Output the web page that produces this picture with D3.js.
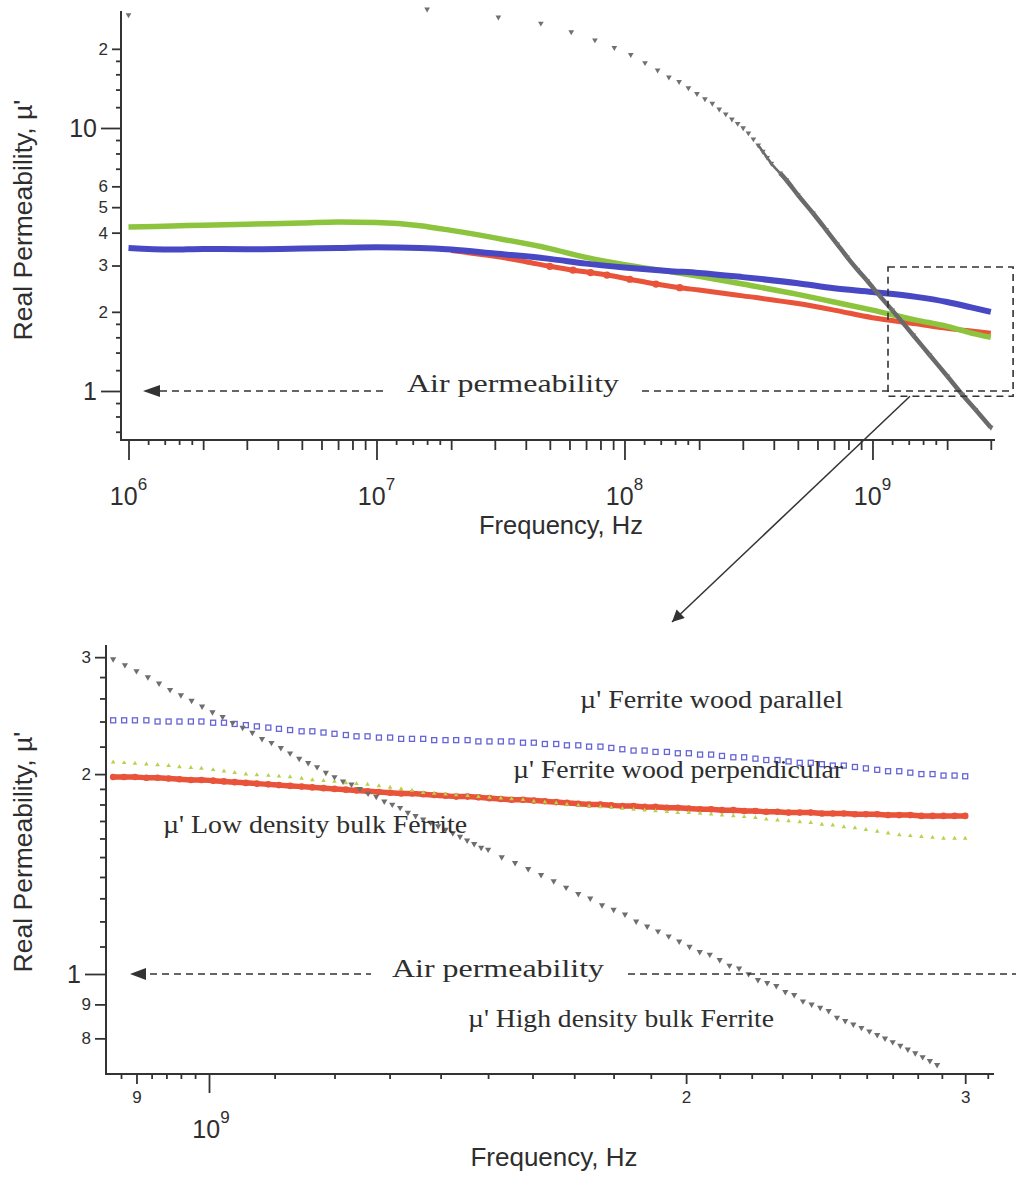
<!DOCTYPE html>
<html>
<head>
<meta charset="utf-8">
<script src="https://cdn.jsdelivr.net/npm/d3@7"></script>
<style>
  body { margin: 0; background: #fff; }
  text { fill: #2e2e2e; }
</style>
</head>
<body>
<script>
// ---------- data: upper chart (full sweep, Hz) ----------
var topFreq = [1e6, 1.5e6, 2e6, 3e6, 5e6, 7e6, 1e7, 1.5e7, 2e7, 3e7, 5e7, 7e7, 1e8, 1.5e8, 2e8, 3e8, 5e8, 7e8, 1e9, 1.5e9, 2e9, 2.5e9, 3e9];
var topBlue = [3.50, 3.45, 3.47, 3.46, 3.48, 3.50, 3.52, 3.50, 3.45, 3.33, 3.18, 3.05, 2.95, 2.86, 2.81, 2.71, 2.57, 2.46, 2.38, 2.28, 2.18, 2.08, 2.00];
var topGreen = [4.20, 4.24, 4.27, 4.31, 4.35, 4.39, 4.37, 4.25, 4.08, 3.82, 3.48, 3.22, 3.02, 2.85, 2.73, 2.55, 2.33, 2.18, 2.03, 1.86, 1.76, 1.66, 1.60];

var topRedFreq = [2e7, 3e7, 4e7, 5e7, 6.2e7, 7.3e7, 8.5e7, 1.05e8, 1.34e8, 1.67e8, 2e8, 3e8, 5e8, 7e8, 1e9, 1.5e9, 2e9, 2.5e9, 3e9];
var topRed = [3.42, 3.25, 3.10, 2.98, 2.88, 2.82, 2.76, 2.66, 2.55, 2.47, 2.42, 2.30, 2.15, 2.03, 1.90, 1.80, 1.73, 1.69, 1.66];

var topGrayFreq = [1e6, 1.6e7, 3.1e7, 4.6e7, 6.1e7, 7.6e7, 9.1e7, 1.06e8, 1.21e8, 1.36e8, 1.51e8, 1.66e8, 1.81e8, 1.96e8, 2.11e8, 2.26e8,
                   2.41e8, 2.56e8, 2.71e8, 2.86e8, 3.01e8, 3.16e8, 3.31e8, 3.46e8, 3.61e8, 3.76e8, 3.91e8,
                   4.24e8, 4.5e8, 5e8, 5.75e8, 6.5e8, 7.2e8, 7.9e8, 8.7e8, 9.5e8, 1.07e9, 1.2e9, 1.46e9, 1.7e9, 2e9, 2.3e9, 2.6e9, 3e9];
var topGray = [26.9, 28.3, 26.4, 25.0, 23.2, 21.6, 20.2, 19.0, 17.7, 16.6, 15.6, 15.0, 14.2, 13.5, 12.9, 12.4,
               11.8, 11.3, 10.8, 10.4, 10.0, 9.57, 9.08, 8.61, 8.14, 7.72, 7.33,
               6.74, 6.33, 5.57, 4.75, 4.1, 3.62, 3.23, 2.89, 2.63, 2.30, 2.03, 1.63, 1.37, 1.14, 0.97, 0.85, 0.727];

// ---------- data: lower (zoomed) chart, GHz ----------
var botFreq = [0.870, 0.884, 0.898, 0.913, 0.928, 0.943, 0.958, 0.974, 0.989, 1.006,
               1.022, 1.038, 1.055, 1.072, 1.090, 1.107, 1.125, 1.144, 1.162, 1.181,
               1.200, 1.220, 1.239, 1.259, 1.280, 1.301, 1.322, 1.343, 1.365, 1.387,
               1.410, 1.432, 1.456, 1.479, 1.503, 1.528, 1.552, 1.578, 1.603, 1.629,
               1.656, 1.682, 1.710, 1.737, 1.766, 1.794, 1.823, 1.853, 1.883, 1.913,
               1.945, 1.976, 2.008, 2.041, 2.074, 2.107, 2.142, 2.176, 2.212, 2.247,
               2.284, 2.321, 2.359, 2.397, 2.436, 2.475, 2.515, 2.556, 2.597, 2.640,
               2.682, 2.726, 2.770, 2.815, 2.861, 2.907, 2.954, 3.000];
var botBlue = [2.41, 2.41, 2.41, 2.41, 2.40, 2.40, 2.40, 2.40, 2.40, 2.39,
               2.39, 2.38, 2.37, 2.36, 2.35, 2.34, 2.33, 2.32, 2.32, 2.31,
               2.30, 2.29, 2.28, 2.28, 2.27, 2.27, 2.26, 2.26, 2.26, 2.25,
               2.25, 2.25, 2.25, 2.24, 2.24, 2.24, 2.24, 2.23, 2.23, 2.22,
               2.22, 2.21, 2.21, 2.20, 2.20, 2.19, 2.18, 2.17, 2.17, 2.16,
               2.16, 2.15, 2.15, 2.14, 2.14, 2.13, 2.12, 2.12, 2.11, 2.10,
               2.10, 2.09, 2.08, 2.08, 2.07, 2.06, 2.06, 2.05, 2.04, 2.03,
               2.02, 2.02, 2.01, 2.00, 2.00, 1.99, 1.99, 1.985];
var botGreen = [2.085, 2.08, 2.075, 2.07, 2.065, 2.06, 2.05, 2.045, 2.04, 2.03,
                2.02, 2.01, 2.00, 1.995, 1.99, 1.985, 1.98, 1.97, 1.96, 1.955,
                1.95, 1.94, 1.935, 1.93, 1.92, 1.91, 1.90, 1.89, 1.875, 1.87,
                1.865, 1.86, 1.855, 1.85, 1.845, 1.84, 1.835, 1.83, 1.82, 1.815,
                1.81, 1.80, 1.795, 1.79, 1.785, 1.78, 1.775, 1.77, 1.765, 1.76,
                1.755, 1.75, 1.75, 1.745, 1.74, 1.735, 1.73, 1.725, 1.72, 1.71,
                1.705, 1.70, 1.695, 1.69, 1.68, 1.675, 1.665, 1.66, 1.65, 1.64,
                1.63, 1.62, 1.615, 1.61, 1.605, 1.60, 1.60, 1.60];
var botRed = [1.98, 1.98, 1.98, 1.975, 1.975, 1.97, 1.965, 1.96, 1.96, 1.955,
              1.95, 1.945, 1.94, 1.935, 1.93, 1.925, 1.92, 1.915, 1.91, 1.905,
              1.90, 1.895, 1.89, 1.885, 1.88, 1.875, 1.87, 1.87, 1.865, 1.86,
              1.855, 1.85, 1.85, 1.845, 1.84, 1.835, 1.83, 1.83, 1.825, 1.82,
              1.815, 1.81, 1.805, 1.80, 1.80, 1.795, 1.79, 1.79, 1.785, 1.785,
              1.78, 1.78, 1.775, 1.77, 1.77, 1.765, 1.765, 1.76, 1.76, 1.755,
              1.755, 1.75, 1.75, 1.75, 1.745, 1.745, 1.745, 1.74, 1.74, 1.74,
              1.735, 1.735, 1.735, 1.73, 1.73, 1.73, 1.73, 1.73];

var botGrayFreq = [0.870, 0.885, 0.900, 0.915, 0.930, 0.945, 0.960, 0.975, 0.990, 1.005,
                   1.020, 1.035, 1.050, 1.065, 1.080, 1.095, 1.110, 1.125, 1.140, 1.155,
                   1.170, 1.185, 1.200, 1.215, 1.230, 1.245, 1.260, 1.275, 1.290, 1.305,
                   1.320, 1.335, 1.350, 1.365, 1.380, 1.395, 1.410, 1.425, 1.440, 1.455,
                   1.470, 1.485, 1.500,
                   1.53, 1.56, 1.59, 1.62, 1.65, 1.68, 1.71, 1.74, 1.77, 1.80,
                   1.83, 1.86, 1.89, 1.92, 1.95, 1.98, 2.01, 2.04, 2.07, 2.10,
                   2.13, 2.16, 2.19, 2.22, 2.25, 2.28, 2.31, 2.34, 2.37, 2.40,
                   2.43, 2.46, 2.49, 2.52, 2.55, 2.58, 2.61, 2.64, 2.67, 2.70,
                   2.73, 2.76, 2.79, 2.82, 2.85, 2.88];
var botGray = [2.98, 2.92, 2.86, 2.80, 2.74, 2.68, 2.63, 2.58, 2.53, 2.48,
               2.44, 2.39, 2.35, 2.31, 2.26, 2.23, 2.19, 2.15, 2.11, 2.08,
               2.05, 2.01, 1.98, 1.95, 1.93, 1.90, 1.87, 1.85, 1.82, 1.80,
               1.78, 1.75, 1.73, 1.71, 1.69, 1.67, 1.65, 1.63, 1.61, 1.59,
               1.57, 1.55, 1.54,
               1.50, 1.47, 1.44, 1.41, 1.38, 1.35, 1.32, 1.30, 1.27, 1.25,
               1.23, 1.20, 1.18, 1.16, 1.14, 1.12, 1.10, 1.08, 1.07, 1.05,
               1.03, 1.02, 1.00, 0.98, 0.97, 0.96, 0.94, 0.93, 0.91, 0.90,
               0.89, 0.88, 0.86, 0.85, 0.84, 0.83, 0.82, 0.81, 0.80, 0.79,
               0.78, 0.77, 0.76, 0.75, 0.74, 0.73];

// tick values
var topYMajor = [1, 10], topYLabeled = [2, 3, 4, 5, 6, 20], topYMinor = [0.7, 0.8, 0.9, 1.2, 1.4, 1.6, 1.8, 7, 8, 9, 12, 14, 16, 18];
var topXMajor = [1e6, 1e7, 1e8, 1e9];
var botYMajor = [1], botYLabeled = [0.8, 0.9, 2, 3], botYMinor = [1.1, 1.2, 1.3, 1.4, 1.5, 1.6, 1.7, 1.8, 1.9, 2.2, 2.4, 2.6, 2.8];
var botXMajor = [1], botXLabeled = [0.9, 2, 3];
var botXMinor = [0.88, 0.92, 0.94, 0.96, 0.98, 1.1, 1.2, 1.3, 1.4, 1.5, 1.6, 1.7, 1.8, 1.9, 2.1, 2.2, 2.3, 2.4, 2.5, 2.6, 2.7, 2.8, 2.9, 3.1];

// zoom box drawn on the upper chart (Hz, mu')
var zoomBox = { f0: 1.155e9, f1: 3.69e9, m0: 0.955, m1: 2.96 };

var cBlue = '#4848c4', cGreen = '#8cc43e', cRed = '#e8533a', cGray = '#6a6a6a';
var cBlueSq = '#6464d6', cGreenTri = '#b6d24a';
var ink = '#333';
var sans = 'Liberation Sans, Arial, sans-serif';
var serif = 'Liberation Serif, Times New Roman, serif';

var svg = d3.select('body').append('svg')
    .attr('width', 1020)
    .attr('height', 1179);

var defs = svg.append('defs');
defs.append('marker')
    .attr('id', 'head')
    .attr('viewBox', '0 0 10 10')
    .attr('refX', 10).attr('refY', 5)
    .attr('markerWidth', 18).attr('markerHeight', 12)
    .attr('markerUnits', 'userSpaceOnUse')
    .attr('orient', 'auto')
    .append('path').attr('d', 'M0,0L10,5L0,10Z').attr('fill', '#333');

function pairs(fs, vs) {
    return fs.map(function(f, i) { return { f: f, v: vs[i] }; });
}

function tickGroup(g, axis, vals, len, fmt, size) {
    var a = g.append('g').call(axis.tickValues(vals).tickSize(len).tickPadding(4).tickFormat(fmt));
    a.select('.domain').remove();
    a.selectAll('line').attr('stroke', ink).attr('stroke-width', 1.8);
    a.selectAll('text').attr('fill', ink).style('font-family', sans).style('font-size', size + 'px');
    return a;
}

// ================= upper chart =================
var x1 = d3.scaleLog().domain([1e6, 3e9]).range([128.5, 990.8]);
var y1 = d3.scaleLog().domain([1, 10]).range([391, 128]);
var gTop = svg.append('g');

// y ticks
var yAx1 = gTop.append('g').attr('transform', 'translate(121,0)');
tickGroup(yAx1, d3.axisLeft(y1), topYMinor, 5, '', 10);
tickGroup(yAx1, d3.axisLeft(y1), topYLabeled, 9, function(d) { return d === 20 ? '2' : d; }, 17);
tickGroup(yAx1, d3.axisLeft(y1), topYMajor, 20, function(d) { return d; }, 25);

// x ticks
var topXMid = [], topXSmall = [];
[1e6, 1e7, 1e8, 1e9].forEach(function(dec) {
    [2, 3, 4, 5, 6, 7, 8, 9].forEach(function(m) { if (m * dec <= 3e9) topXMid.push(m * dec); });
    [1.2, 1.4, 1.6, 1.8].forEach(function(m) { topXSmall.push(m * dec); });
});
var xAx1 = gTop.append('g').attr('transform', 'translate(0,440)');
tickGroup(xAx1, d3.axisBottom(x1), topXSmall, 5, '', 10);
tickGroup(xAx1, d3.axisBottom(x1), topXMid, 10, '', 10);
tickGroup(xAx1, d3.axisBottom(x1), topXMajor, 20, '', 10);

topXMajor.forEach(function(v) {
    var t = gTop.append('text').attr('x', x1(v)).attr('y', 505)
        .attr('text-anchor', 'middle').style('font-family', sans).style('font-size', '25px');
    t.append('tspan').text('10');
    t.append('tspan').attr('dy', -15).style('font-size', '17px').text(Math.round(Math.log10(v)));
});

// axis lines
gTop.append('line').attr('x1', 121).attr('x2', 121).attr('y1', 11).attr('y2', 441)
    .attr('stroke', ink).attr('stroke-width', 2);
gTop.append('line').attr('x1', 120).attr('x2', 995).attr('y1', 440).attr('y2', 440)
    .attr('stroke', ink).attr('stroke-width', 2);

gTop.append('text').attr('x', 561).attr('y', 534).attr('text-anchor', 'middle')
    .style('font-family', sans).style('font-size', '25.5px').text('Frequency, Hz');
gTop.append('text').attr('transform', 'translate(32,220) rotate(-90)').attr('text-anchor', 'middle')
    .style('font-family', sans).style('font-size', '26.5px').text("Real Permeability, \u00b5'");

// series
var line1 = d3.line().x(function(d) { return x1(d.f); }).y(function(d) { return y1(d.v); }).curve(d3.curveMonotoneX);

gTop.append('path').attr('d', line1(pairs(topRedFreq, topRed)))
    .attr('fill', 'none').attr('stroke', cRed).attr('stroke-width', 5);
gTop.selectAll('.rc').data(pairs(topRedFreq, topRed).filter(function(d) { return d.f >= 4.5e7 && d.f <= 1.8e8; }))
    .enter().append('circle').attr('cx', function(d) { return x1(d.f); }).attr('cy', function(d) { return y1(d.v); })
    .attr('r', 3.6).attr('fill', cRed);
gTop.append('path').attr('d', line1(pairs(topFreq, topGreen)))
    .attr('fill', 'none').attr('stroke', cGreen).attr('stroke-width', 5.5);
gTop.append('path').attr('d', line1(pairs(topFreq, topBlue)))
    .attr('fill', 'none').attr('stroke', cBlue).attr('stroke-width', 6);

// high density ferrite: markers, overlapping into a thick trace where the sweep is dense
var grayTop = pairs(topGrayFreq, topGray);
gTop.append('path').attr('d', line1(grayTop.filter(function(d) { return d.f >= 3.46e8 && d.f < 4.3e8; })))
    .attr('fill', 'none').attr('stroke', cGray).attr('stroke-width', 2.5);
gTop.append('path').attr('d', line1(grayTop.filter(function(d) { return d.f >= 4.24e8; })))
    .attr('fill', 'none').attr('stroke', cGray).attr('stroke-width', 4.5);
gTop.selectAll('.gt').data(grayTop).enter().append('path')
    .attr('d', d3.symbol().type(d3.symbolTriangle).size(14)())
    .attr('transform', function(d) { return 'translate(' + x1(d.f) + ',' + y1(d.v) + ') rotate(180)'; })
    .attr('fill', '#707070');

// air permeability reference
var yAir1 = y1(1);
gTop.append('path').attr('d', 'M143,' + yAir1 + 'L160,' + (yAir1 - 6) + 'L160,' + (yAir1 + 6) + 'Z').attr('fill', '#333');
gTop.append('line').attr('x1', 160).attr('x2', 384).attr('y1', yAir1).attr('y2', yAir1)
    .attr('stroke', '#333').attr('stroke-width', 1.6).attr('stroke-dasharray', '7,5');
gTop.append('line').attr('x1', 642).attr('x2', 1013).attr('y1', yAir1).attr('y2', yAir1)
    .attr('stroke', '#333').attr('stroke-width', 1.6).attr('stroke-dasharray', '7,5');
gTop.append('text').attr('x', 407).attr('y', 392).attr('textLength', 212).attr('lengthAdjust', 'spacingAndGlyphs')
    .style('font-family', serif).style('font-size', '25px').text('Air permeability');

// zoom box and arrow
var bx0 = x1(zoomBox.f0), bx1 = x1(zoomBox.f1), by0 = y1(zoomBox.m1), by1 = y1(zoomBox.m0);
gTop.append('rect').attr('x', bx0).attr('y', by0).attr('width', bx1 - bx0).attr('height', by1 - by0)
    .attr('fill', 'none').attr('stroke', '#333').attr('stroke-width', 1.6).attr('stroke-dasharray', '7,5');
svg.append('line').attr('x1', bx0 + 22).attr('y1', by1).attr('x2', 672).attr('y2', 622)
    .attr('stroke', '#333').attr('stroke-width', 1.5).attr('marker-end', 'url(#head)');

// ================= lower chart =================
var x2 = d3.scaleLog().domain([1, 3]).range([209, 965.2]);
var y2 = d3.scaleLog().domain([1, 2]).range([974, 774.1]);
var gBot = svg.append('g');

var yAx2 = gBot.append('g').attr('transform', 'translate(106,0)');
tickGroup(yAx2, d3.axisLeft(y2), botYMinor, 6, '', 10);
tickGroup(yAx2, d3.axisLeft(y2), botYLabeled, 11, function(d) { return d < 1 ? Math.round(d * 10) : d; }, 17);
tickGroup(yAx2, d3.axisLeft(y2), botYMajor, 21, function(d) { return d; }, 25);

var xAx2 = gBot.append('g').attr('transform', 'translate(0,1074)');
tickGroup(xAx2, d3.axisBottom(x2), botXMinor, 5, '', 10);
tickGroup(xAx2, d3.axisBottom(x2), botXLabeled, 10, function(d) { return d < 1 ? Math.round(d * 10) : d; }, 17)
    .selectAll('text').attr('dy', '0.9em');
tickGroup(xAx2, d3.axisBottom(x2), botXMajor, 19, '', 10);

botXMajor.forEach(function(v) {
    var t = gBot.append('text').attr('x', x2(v) + 2).attr('y', 1138)
        .attr('text-anchor', 'middle').style('font-family', sans).style('font-size', '25px');
    t.append('tspan').text('10');
    t.append('tspan').attr('dy', -15).style('font-size', '17px').text('9');
});

gBot.append('line').attr('x1', 106).attr('x2', 106).attr('y1', 645).attr('y2', 1075)
    .attr('stroke', ink).attr('stroke-width', 2);
gBot.append('line').attr('x1', 105).attr('x2', 994).attr('y1', 1074).attr('y2', 1074)
    .attr('stroke', ink).attr('stroke-width', 2);

gBot.append('text').attr('x', 554).attr('y', 1166).attr('text-anchor', 'middle')
    .style('font-family', sans).style('font-size', '26px').text('Frequency, Hz');
gBot.append('text').attr('transform', 'translate(32,852) rotate(-90)').attr('text-anchor', 'middle')
    .style('font-family', sans).style('font-size', '26.5px').text("Real Permeability, \u00b5'");

var line2 = d3.line().x(function(d) { return x2(d.f); }).y(function(d) { return y2(d.v); }).curve(d3.curveMonotoneX);

// red: dense circles
var redBot = pairs(botFreq, botRed);
gBot.append('path').attr('d', line2(redBot)).attr('fill', 'none').attr('stroke', cRed).attr('stroke-width', 5.5);
gBot.selectAll('.rb').data(redBot).enter().append('circle')
    .attr('cx', function(d) { return x2(d.f); }).attr('cy', function(d) { return y2(d.v); })
    .attr('r', 3.3).attr('fill', cRed);

// green: small up triangles
gBot.selectAll('.gb').data(pairs(botFreq, botGreen)).enter().append('path')
    .attr('d', d3.symbol().type(d3.symbolTriangle).size(9)())
    .attr('transform', function(d) { return 'translate(' + x2(d.f) + ',' + y2(d.v) + ')'; })
    .attr('fill', cGreenTri);

// blue: open squares
gBot.selectAll('.bb').data(pairs(botFreq, botBlue)).enter().append('rect')
    .attr('x', function(d) { return x2(d.f) - 2.5; }).attr('y', function(d) { return y2(d.v) - 2.5; })
    .attr('width', 5).attr('height', 5)
    .attr('fill', 'none').attr('stroke', cBlueSq).attr('stroke-width', 1.3);

// gray: down triangles
gBot.selectAll('.kb').data(pairs(botGrayFreq, botGray)).enter().append('path')
    .attr('d', d3.symbol().type(d3.symbolTriangle).size(17)())
    .attr('transform', function(d) { return 'translate(' + x2(d.f) + ',' + y2(d.v) + ') rotate(180)'; })
    .attr('fill', '#6e6e6e');

// air permeability reference
var yAir2 = y2(1);
gBot.append('path').attr('d', 'M130,' + yAir2 + 'L146,' + (yAir2 - 6) + 'L146,' + (yAir2 + 6) + 'Z').attr('fill', '#333');
gBot.append('line').attr('x1', 150).attr('x2', 371).attr('y1', yAir2).attr('y2', yAir2)
    .attr('stroke', '#333').attr('stroke-width', 1.6).attr('stroke-dasharray', '7,5');
gBot.append('line').attr('x1', 628).attr('x2', 1016).attr('y1', yAir2).attr('y2', yAir2)
    .attr('stroke', '#333').attr('stroke-width', 1.6).attr('stroke-dasharray', '7,5');
gBot.append('text').attr('x', 392).attr('y', 977).attr('textLength', 212).attr('lengthAdjust', 'spacingAndGlyphs')
    .style('font-family', serif).style('font-size', '25px').text('Air permeability');

// series labels
var labels = [
    { t: "\u00b5' Ferrite wood parallel", x: 580, y: 708, w: 263 },
    { t: "\u00b5' Ferrite wood perpendicular", x: 513, y: 778, w: 330 },
    { t: "\u00b5' Low density bulk Ferrite", x: 163, y: 833, w: 304 },
    { t: "\u00b5' High density bulk Ferrite", x: 468, y: 1027, w: 306 }
];
gBot.selectAll('.lab').data(labels).enter().append('text')
    .attr('x', function(d) { return d.x; }).attr('y', function(d) { return d.y; })
    .attr('textLength', function(d) { return d.w; }).attr('lengthAdjust', 'spacingAndGlyphs')
    .style('font-family', serif).style('font-size', '25px')
    .text(function(d) { return d.t; });
</script>
</body>
</html>
